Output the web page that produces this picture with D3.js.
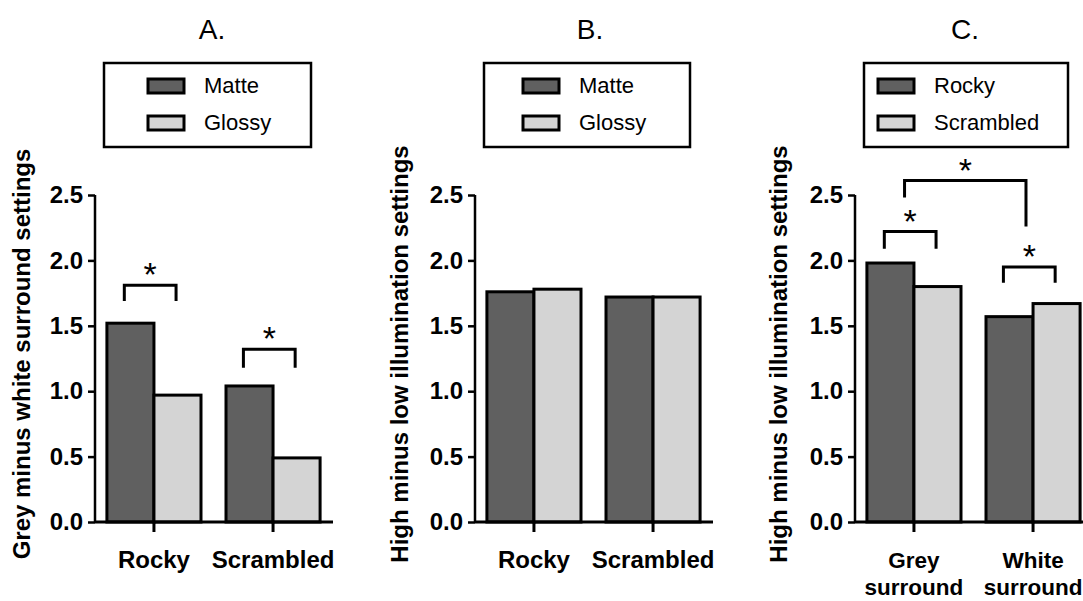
<!DOCTYPE html>
<html>
<head>
<meta charset="utf-8">
<script src="https://cdn.jsdelivr.net/npm/d3@7"></script>
<style>
  body { margin: 0; background: #fff; }
  text { font-family: "Liberation Sans", Arial, sans-serif; }
</style>
</head>
<body>
<script>
// chart data
var categoriesAB = ["Rocky", "Scrambled"];
var seriesAB = ["Matte", "Glossy"];
var valuesA = [[1.52, 0.97], [1.04, 0.49]];
var valuesB = [[1.76, 1.78], [1.72, 1.72]];

var categoriesC = [["Grey", "surround"], ["White", "surround"]];
var seriesC = ["Rocky", "Scrambled"];
var valuesC = [[1.98, 1.80], [1.57, 1.67]];

var yTicks = [0, 0.5, 1.0, 1.5, 2.0, 2.5];

// significance brackets: [category index, top value, leg bottom value]
var starsA = [[0, 1.81, 1.69], [1, 1.32, 1.18]];
var starsC = [[0, 2.22, 2.09], [1, 1.95, 1.83]];
// bracket across groups in C: [top, left leg bottom, right leg bottom]
var bigBracket = [2.61, 2.48, 2.26];

var width = 1083, height = 601;
var darkFill = "#606060", lightFill = "#d4d4d4";

var svg = d3.select("body").append("svg")
    .attr("width", width)
    .attr("height", height);

function star(g, x, y) {
  g.append("text")
    .attr("x", x).attr("y", y + 1)
    .attr("text-anchor", "middle")
    .style("font-size", "34px")
    .text("*");
}

function drawPanel(p) {
  var g = svg.append("g");

  var y = d3.scaleLinear().domain([0, 2.5]).range([522, 195]);
  var x = d3.scaleBand()
      .domain(d3.range(p.values.length))
      .range([p.x0, p.x0 + 237])
      .paddingInner(0.21)
      .paddingOuter(0.1);
  var xs = d3.scaleBand().domain(d3.range(2)).range([0, x.bandwidth()]);

  // title
  g.append("text")
    .attr("x", p.titleX).attr("y", 39)
    .attr("text-anchor", "middle")
    .style("font-size", "28px")
    .text(p.title);

  // legend
  var lg = g.append("g");
  lg.append("rect")
    .attr("x", p.legend[0]).attr("y", 63)
    .attr("width", p.legend[1]).attr("height", 84)
    .attr("fill", "none").attr("stroke", "#000").attr("stroke-width", 2.5);
  p.series.forEach(function(s, i) {
    lg.append("rect")
      .attr("x", p.legend[0] + p.legend[2]).attr("y", 79 + i * 37)
      .attr("width", 36).attr("height", 14)
      .attr("fill", i === 0 ? darkFill : lightFill)
      .attr("stroke", "#000").attr("stroke-width", 3);
    lg.append("text")
      .attr("x", p.legend[0] + p.legend[2] + 56).attr("y", 93 + i * 37)
      .style("font-size", "22px")
      .text(s);
  });

  // bars
  var grp = g.selectAll(".grp").data(p.values).enter().append("g")
    .attr("transform", function(d, i) { return "translate(" + x(i) + ",0)"; });
  grp.selectAll("rect").data(function(d) { return d; }).enter().append("rect")
    .attr("x", function(d, j) { return xs(j); })
    .attr("y", function(d) { return y(d); })
    .attr("width", xs.bandwidth())
    .attr("height", function(d) { return y(0) - y(d); })
    .attr("fill", function(d, j) { return j === 0 ? darkFill : lightFill; })
    .attr("stroke", "#000").attr("stroke-width", 3);

  // y axis
  var ya = g.append("g")
    .attr("transform", "translate(" + p.x0 + ",0)")
    .call(d3.axisLeft(y).tickValues(yTicks).tickFormat(d3.format(".1f")).tickSize(7).tickPadding(5));
  ya.select(".domain").attr("stroke-width", 2.5).attr("d", "M0," + y(2.5) + "V" + y(0));
  ya.selectAll(".tick line").attr("stroke-width", 2.5);
  ya.selectAll(".tick text")
    .style("font-size", "24px").style("font-weight", "bold")
    .style("font-family", "'Liberation Sans', Arial, sans-serif");

  // x axis line and category ticks
  g.append("line")
    .attr("x1", p.x0).attr("x2", p.x0 + 238)
    .attr("y1", y(0)).attr("y2", y(0))
    .attr("stroke", "#000").attr("stroke-width", 3);
  p.values.forEach(function(d, i) {
    var cx = x(i) + x.bandwidth() / 2;
    g.append("line")
      .attr("x1", cx).attr("x2", cx)
      .attr("y1", y(0)).attr("y2", y(0) + 10)
      .attr("stroke", "#000").attr("stroke-width", 3);
    var lines = [].concat(p.categories[i]);
    lines.forEach(function(t, k) {
      g.append("text")
        .attr("x", cx).attr("y", 568 + k * 27)
        .attr("text-anchor", "middle")
        .style("font-size", p.catSize + "px").style("font-weight", "bold")
        .text(t);
    });
  });

  // y axis title
  g.append("text")
    .attr("transform", "translate(" + p.labelX + ",354) rotate(-90)")
    .attr("text-anchor", "middle")
    .style("font-size", "24px").style("font-weight", "bold")
    .text(p.yLabel);

  // significance brackets within a group
  (p.stars || []).forEach(function(s) {
    var xl = x(s[0]) + xs.bandwidth() * 0.37;
    var xr = x(s[0]) + xs.bandwidth() * 1.47;
    g.append("path")
      .attr("d", "M" + xl + "," + y(s[2]) + "V" + y(s[1]) + "H" + xr + "V" + y(s[2]))
      .attr("fill", "none").attr("stroke", "#000").attr("stroke-width", 3);
    star(g, (xl + xr) / 2, y(s[1]));
  });

  return { x: x, y: y, xs: xs, g: g };
}

drawPanel({
  title: "A.", titleX: 212, x0: 95,
  legend: [104, 207, 44], catSize: 24,
  series: seriesAB, values: valuesA, categories: categoriesAB,
  yLabel: "Grey minus white surround settings", labelX: 30,
  stars: starsA
});

drawPanel({
  title: "B.", titleX: 590, x0: 475,
  legend: [484, 206, 39], catSize: 24,
  series: seriesAB, values: valuesB, categories: categoriesAB,
  yLabel: "High minus low illumination settings", labelX: 408
});

var pc = drawPanel({
  title: "C.", titleX: 965, x0: 855,
  legend: [864, 204, 14], catSize: 22.5,
  series: seriesC, values: valuesC, categories: categoriesC,
  yLabel: "High minus low illumination settings", labelX: 787,
  stars: starsC
});

// bracket between the two Rocky bars of panel C
var bl = pc.x(0) + pc.xs.bandwidth() * 0.8;
var br = pc.x(1) + pc.xs.bandwidth() * 0.85;
pc.g.append("path")
  .attr("d", "M" + bl + "," + pc.y(bigBracket[1]) + "V" + pc.y(bigBracket[0]) +
             "H" + br + "V" + pc.y(bigBracket[2]))
  .attr("fill", "none").attr("stroke", "#000").attr("stroke-width", 3);
star(pc.g, (bl + br) / 2, pc.y(bigBracket[0]));
</script>
</body>
</html>
